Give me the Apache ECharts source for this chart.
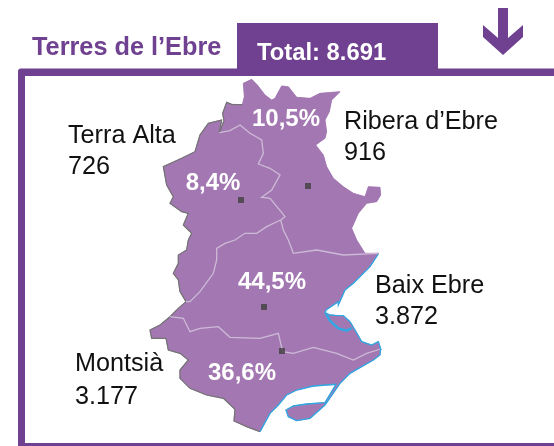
<!DOCTYPE html>
<html><head><meta charset="utf-8">
<style>html,body{margin:0;padding:0;background:#fff}#c{width:554px;height:446px}</style>
<script src="https://cdn.jsdelivr.net/npm/echarts@6/dist/echarts.min.js"></script>
</head><body><div id="c"></div>
<script>
// ---- data ----
const regions = ['Terra Alta', "Ribera d’Ebre", 'Baix Ebre', 'Montsià'];
const counts = [726, 916, 3872, 3177];
const countLabels = ['726', '916', '3.872', '3.177'];
const shareLabels = ['8,4%', '10,5%', '44,5%', '36,6%'];
const titleText = 'Terres de l’Ebre';
const totalText = 'Total: 8.691';

// ---- base-map geometry (traced in three crop frames) ----
const f1 = a => a.map(([x, y]) => [150 + x / 3, -(70 + y / 3)]);
const f2 = a => a.map(([x, y]) => [150 + x / 3, -(250 + y / 3)]);
const f4 = a => a.map(([x, y]) => [310 + x / 3, -(300 + y / 3)]);
const rev = a => a.slice().reverse();

const northEdge = f1([[208,188],[222,152],[218,130],[230,97],[245,103],[277,104],[283,80],[280,40],[305,28],[322,45],[345,75],[365,90],[375,85],[395,48],[415,50],[440,82],[480,85],[510,70],[570,65],[545,90],[538,125],[525,150],[530,185],[525,205],[497,225],[520,255],[530,290],[550,325],[580,350],[610,370],[645,380],[655,350],[690,352],[692,375],[680,395],[650,400],[625,430],[605,475],[620,510],[645,550],[685,550]]);
const ebreCoast = f2([[685,12],[660,50],[610,100],[585,120],[565,165]]).concat(
  f4([[85,5],[48,30],[45,38],[60,45],[75,46],[100,47],[120,65],[135,90],[155,125],[185,135],[205,125],[213,150]]));
const montsiaCoast = f2([[692,297],[690,315],[670,330],[600,370],[570,400],[525,465],[480,505],[440,512],[415,500],[408,480],[430,468],[470,462],[525,458],[558,403],[490,408],[440,420],[410,435],[385,465],[360,490],[330,545]]);
const montsiaWest = f2([[330,545],[290,530],[252,513],[255,478],[220,445],[170,435],[120,415],[90,385],[90,360],[115,330],[90,310],[55,300],[48,265],[5,265],[0,240],[30,225],[60,200]]);
const baixWest = f2([[60,200],[85,175],[108,155]]);
const altaWest = f2([[108,155],[90,125],[85,90],[70,70],[85,40],[85,15],[110,0]]).concat(
  f1([[115,510],[125,490],[100,465],[115,430],[95,425],[60,400],[70,380],[50,345],[40,290],[95,265],[135,245],[150,195],[175,160],[215,150],[208,188]]));
const altaRibera = f1([[208,188],[240,182],[270,165],[300,190],[335,210],[340,250],[325,282],[360,295],[390,315],[365,360],[335,382],[360,385],[385,415],[405,440],[392,450]]);
const altaBaix = f1([[392,450],[350,470],[320,490],[285,490],[255,510],[225,520],[200,535],[200,570]]).concat(
  f2([[190,70],[150,125],[120,155],[108,155]]));
const riberaBaix = f1([[392,450],[400,480],[415,510],[430,550],[500,540],[580,555],[685,550]]);
const baixMontsia = f2([[60,200],[100,205],[120,245],[150,235],[205,230],[240,262],[330,265],[385,250],[398,305],[430,310],[490,292],[560,310],[610,330],[650,310],[692,297]]);
const lagoon = f4([[47,40],[60,62],[85,85],[110,92],[125,84]]);

const rings = [
  altaWest.concat(altaRibera, altaBaix),
  northEdge.concat(rev(riberaBaix), rev(altaRibera)),
  riberaBaix.concat(ebreCoast, rev(baixMontsia), baixWest, rev(altaBaix)),
  baixMontsia.concat(montsiaCoast, montsiaWest)
];
const labelCentres = [[213,-183],[286,-119],[272,-282],[242,-373]];
const geoJson = {
  type: 'FeatureCollection',
  features: regions.map((name, i) => ({
    type: 'Feature',
    properties: { name, cp: labelCentres[i] },
    geometry: { type: 'Polygon', coordinates: [rings[i]] }
  }))
};
echarts.registerMap('ebre', geoJson);

const capitals = [[241,-200],[308,-186],[264,-307],[282,-351]];
const greyEdges = [northEdge.slice(0, 6), altaWest, baixWest, montsiaWest];
const paleEdges = [altaRibera, altaBaix, riberaBaix, baixMontsia];
const blueEdges = [ebreCoast, montsiaCoast];

const FONT = '"Liberation Sans", Arial, sans-serif';
const PURPLE = '#6F4190';
const nameAnchors = [[68,136,167],[344,122,153],[375,286,317],[75,364,397]];
const mapFrame = {
  map: 'ebre', roam: false, silent: true, aspectScale: 1,
  boundingCoords: [[0, 0], [554, -446]],
  left: 0, top: 0, width: 554, height: 446,
  itemStyle: { areaColor: '#A378B2', borderColor: '#A378B2', borderWidth: 0.5 }
};

const lineSeries = (edges, color, width) => ({
  type: 'lines', coordinateSystem: 'geo', polyline: true, silent: true, z: 4,
  lineStyle: { color, width, opacity: 1 },
  data: edges.map(coords => ({ coords }))
});

const chart = echarts.init(document.getElementById('c'), null, { renderer: 'canvas' });
chart.setOption({
  animation: false,
  backgroundColor: '#fff',
  geo: Object.assign({ label: { show: false }, z: 0 }, mapFrame),
  series: [
    lineSeries(greyEdges, '#747474', 1.2),
    lineSeries(paleEdges, '#CDBAD6', 1.3),
    lineSeries(blueEdges, '#2FA8E4', 1.3),
    lineSeries([lagoon], '#2FA8E4', 2.4),
    {
      type: 'scatter', coordinateSystem: 'geo', silent: true, z: 6,
      symbol: 'rect', symbolSize: 6, itemStyle: { color: '#404040' },
      data: capitals
    },
    Object.assign({
      type: 'map', z: 3, showLegendSymbol: false,
      label: {
        show: true, color: '#fff', fontFamily: FONT, fontWeight: 'bold', fontSize: 24,
        formatter: p => shareLabels[regions.indexOf(p.name)]
      },
      data: regions.map((name, i) => ({ name, value: counts[i] }))
    }, mapFrame)
  ],
  graphic: [
    { type: 'rect', z: 1, shape: { x: 237, y: 23, width: 201, height: 46 }, style: { fill: PURPLE } },
    { type: 'polygon', z: 1, shape: { points: [[18,76],[25,76],[25,443],[554,443],[554,446],[18,446]] }, style: { fill: PURPLE } },
    { type: 'rect', z: 1, shape: { x: 18, y: 68.5, width: 536, height: 7.5, r: [3,0,0,0] }, style: { fill: PURPLE } },
    { type: 'polygon', z: 1, shape: { points: [[498,8],[508,8],[508,38],[523,25],[523,37],[503,55],[483,37],[483,25],[498,38]] }, style: { fill: PURPLE } },
    { type: 'text', z: 10, style: { x: 32, y: 48, text: titleText, fill: PURPLE, font: 'bold 25.3px ' + FONT, verticalAlign: 'middle' } },
    { type: 'text', z: 10, style: { x: 257, y: 53, text: totalText, fill: '#fff', font: 'bold 23.8px ' + FONT, verticalAlign: 'middle' } }
  ].concat(regions.flatMap((name, i) => [
    { type: 'text', z: 10, style: { x: nameAnchors[i][0], y: nameAnchors[i][1], text: name, fill: '#111', font: '25.2px ' + FONT, verticalAlign: 'middle' } },
    { type: 'text', z: 10, style: { x: nameAnchors[i][0], y: nameAnchors[i][2], text: countLabels[i], fill: '#111', font: '25.2px ' + FONT, verticalAlign: 'middle' } }
  ]))
});
</script></body></html>
